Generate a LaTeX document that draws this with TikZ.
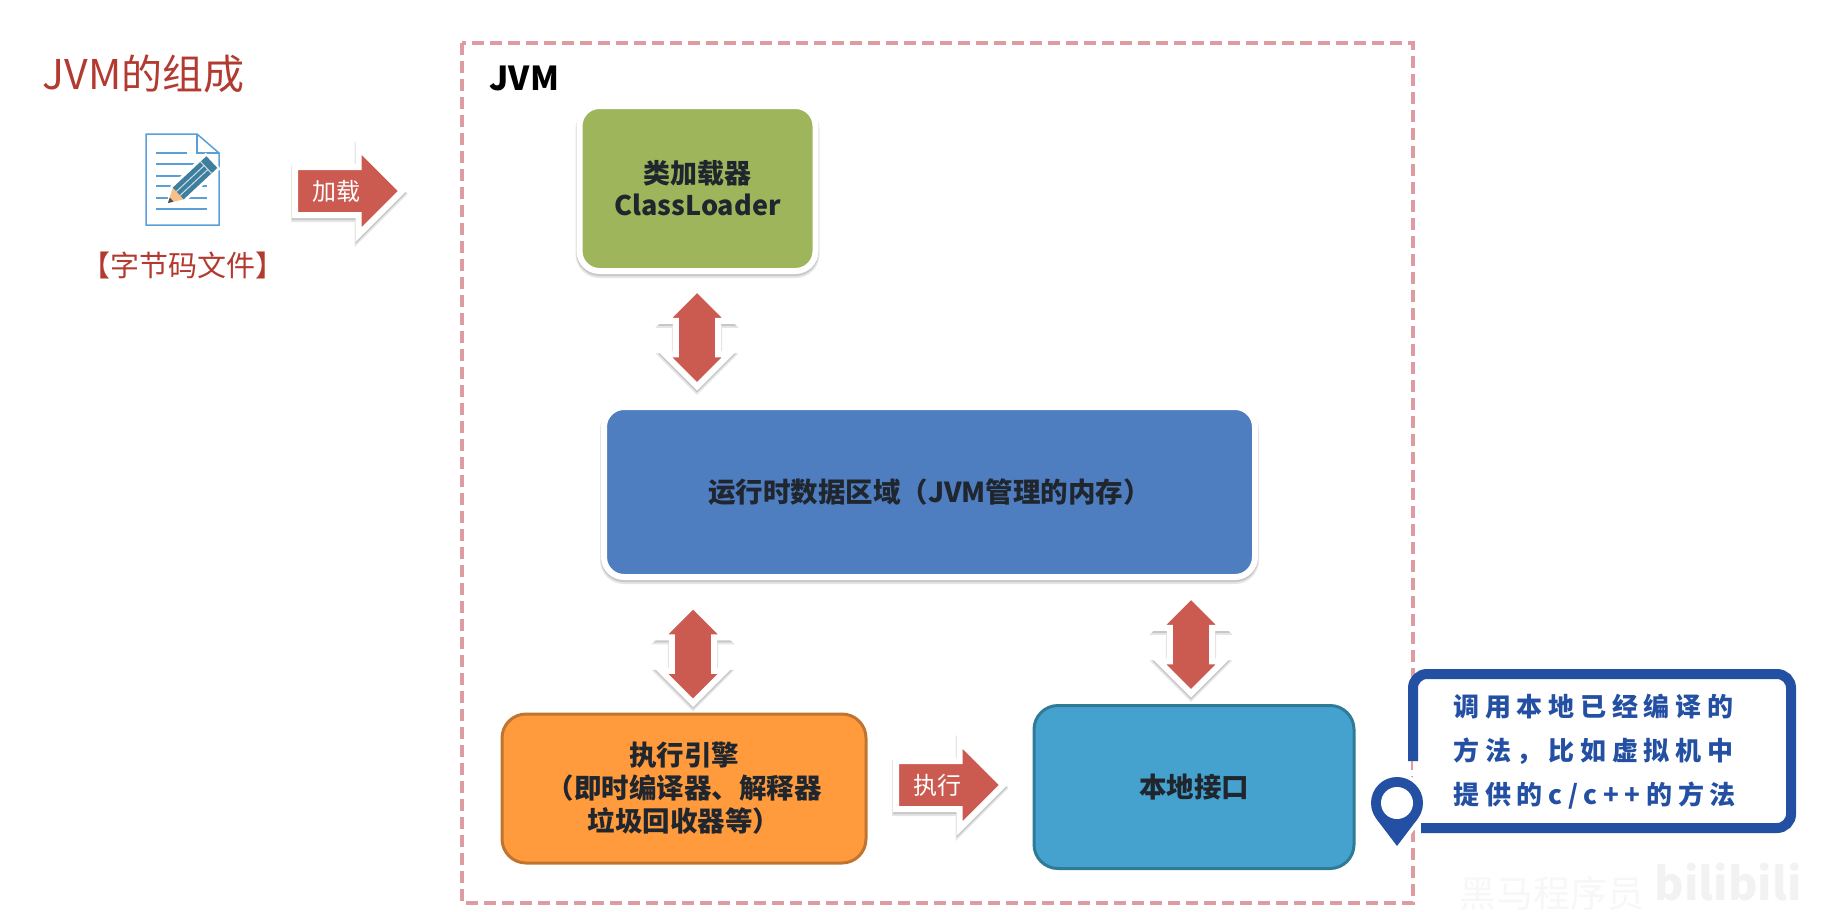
\documentclass[tikz,border=0pt]{standalone}
\usepackage{xcolor}
\usepackage{fontspec}
\setmainfont{Noto Sans CJK SC}
\newfontfamily\spacedfont[LetterSpace=22]{Noto Sans CJK SC}
\usetikzlibrary{shapes.arrows}
\definecolor{titlered}{HTML}{B23A30}
\definecolor{arrowred}{HTML}{CB5A50}
\definecolor{framepink}{HTML}{DC9CA2}
\definecolor{loadergreen}{HTML}{9FB55B}
\definecolor{runtimeblue}{HTML}{4E7DC0}
\definecolor{engineorange}{HTML}{FF9A3D}
\definecolor{engineedge}{HTML}{C0742F}
\definecolor{nativecyan}{HTML}{45A2CE}
\definecolor{nativeedge}{HTML}{2F7A96}
\definecolor{calloutblue}{HTML}{2450A4}
\definecolor{inktext}{HTML}{20262E}
\definecolor{docblue}{HTML}{5A9FD8}
\definecolor{pencilteal}{HTML}{3F7F9E}
\definecolor{pencilpeach}{HTML}{F6C088}
\definecolor{markgrey}{HTML}{F2F2F2}
\begin{document}
\begin{tikzpicture}[x=1pt,y=-1pt,
    softshade/.style={preaction={draw=black!10,line width=8pt,transform canvas={yshift=-3pt}},
                      preaction={draw=black!22,line width=6pt,transform canvas={yshift=-2pt}}},
    boxtext/.style={font=\bfseries\fontsize{27.5}{33}\selectfont,text=inktext,align=center},
    whitebox/.style={softshade,draw=white,line width=6pt,outer sep=0pt,rounded corners=20pt,boxtext},
    edgebox/.style={line width=3pt,outer sep=0pt,rounded corners=24pt,boxtext},
    blockarrow/.style={single arrow,softshade,fill=arrowred,draw=white,line width=6pt,inner sep=0pt,
                       text height=30pt,text depth=12pt,
                       minimum height=107pt,minimum width=81pt,single arrow head extend=19.5pt,
                       text=white,font=\fontsize{24}{24}\selectfont,anchor=tail},
    updown/.style={double arrow,softshade,fill=arrowred,draw=white,line width=6pt,inner sep=0pt,
                   shape border rotate=90,text width=33pt,minimum height=97.5pt,minimum width=64pt,
                   double arrow head extend=10pt},
    docline/.style={docblue,line width=1.5pt}]
  \useasboundingbox (0,0) rectangle (1835,911);
  \node[anchor=west,text=titlered,font=\fontsize{41}{41}\selectfont] (title) at (39,74) {JVM的组成};
  \node[text=titlered,font=\fontsize{29}{29}\selectfont] (bytefile) at (183,265) {【字节码文件】};
  % the file icon
  \draw[docblue,line width=1.5pt,line join=miter] (146,134) -- (197,134) -- (219,153) -- (219,225) -- (146,225) -- cycle;
  \draw[docblue,line width=1.5pt] (197,134) -- (197,153) -- (219,153);
  \draw[docline] (156,153) -- (187,153);
  \foreach \ypos in {164,176,186,198,209}
    \draw[docline] (156,\ypos) -- (207,\ypos);
  \begin{scope}[shift={(168,203)},rotate=43]
    \fill[white] (-2,0) -- (14,-11) -- (62,-11) -- (62,11) -- (14,11) -- cycle;
    \fill[pencilpeach] (0,0) -- (14,-8) -- (14,8) -- cycle;
    \fill[inktext!80] (0,0) -- (5,-2.8) -- (5,2.8) -- cycle;
    \fill[pencilteal] (14,-8) rectangle (60,8);
    \draw[white!75!pencilteal,line width=1pt] (14,-2.7) -- (52,-2.7) (14,2.7) -- (52,2.7);
    \draw[white!75!pencilteal,line width=1pt] (52,-8) -- (52,8);
  \end{scope}
  \node[blockarrow] (load) at (292,191) {加载};
  % dashed JVM frame
  \draw[framepink,line width=4.5pt,dash pattern=on 12pt off 6pt] (462,43) rectangle (1413,903);
  \node[anchor=west,font=\bfseries\fontsize{33}{33}\selectfont] (jvmlabel) at (486,78) {JVM};
  \node[whitebox,fill=loadergreen,minimum width=236pt,minimum height=165pt,font=\bfseries\fontsize{27}{32}\selectfont] (loader) at (697.5,188.5) {类加载器\\ClassLoader};
  \node[whitebox,fill=runtimeblue,minimum width=651pt,minimum height=170pt] (runtime) at (929.5,492) {运行时数据区域（JVM管理的内存）};
  \node[edgebox,fill=engineorange,draw=engineedge,minimum width=364pt,minimum height=149pt] (engine) at (684,788.5) {执行引擎\\（即时编译器、解释器\\垃圾回收器等）};
  \node[edgebox,fill=nativecyan,draw=nativeedge,minimum width=320pt,minimum height=163pt] (native) at (1194,787) {本地接口};
  \node[updown] (loaderarrow) at (697,337.5) {};
  \node[updown] (enginearrow) at (693,654) {};
  \node[updown] (nativearrow) at (1191,644.5) {};
  \node[blockarrow] (run) at (893,785) {执行};
  % callout with its pin
  \node[fill=white,outer sep=0pt,inner sep=0pt,minimum width=378pt,minimum height=154pt] (callout) at (1602,751) {};
  \draw[calloutblue,line width=10pt,rounded corners=14pt] ([xshift=8pt]callout.south west) -- (callout.south east) -- (callout.north east) -- (callout.north west) -- ([yshift=-10pt]callout.west);
  \node[anchor=west,text=calloutblue,align=left,font=\spacedfont\bfseries\fontsize{26}{44}\selectfont] (callouttext) at (1450,752) {调用本地已经编译的\\方法，比如虚拟机中\\提供的c/c++的方法};
  \coordinate (pintip) at (1397,846);
  \node[circle,fill=white,inner sep=0pt,outer sep=0pt,minimum size=60pt] (pinhalo) at (1397,803) {};
  \fill[white] (pinhalo.-30) -- ([yshift=-7pt]pintip) -- (pinhalo.-150) -- cycle;
  \node[circle,fill=calloutblue,inner sep=0pt,outer sep=0pt,minimum size=52pt] (pin) at (1397,803) {};
  \fill[calloutblue] (pin.-37) -- (pintip) -- (pin.-143) -- cycle;
  \node[circle,fill=white,inner sep=0pt,outer sep=0pt,minimum size=32pt] (pinhole) at (pin.center) {};
  % faint marks in the corner
  \node[text=markgrey!60!white,font=\fontsize{37}{37}\selectfont] (markname) at (1552,893) {黑马程序员};
  \node[text=markgrey,font=\bfseries\fontsize{45}{45}\selectfont] (marklogo) at (1728,882) {bilibili};
\end{tikzpicture}
\end{document}
